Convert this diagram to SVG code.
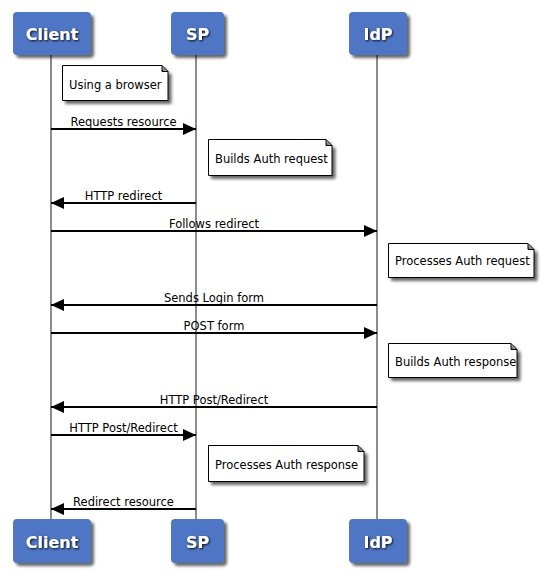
<svg xmlns="http://www.w3.org/2000/svg" width="551" height="571" viewBox="0 0 551 571">
<style>
.box{fill:#4F76C4;stroke:none}
.ptxt{font-family:"DejaVu Sans",Verdana,sans-serif;font-weight:bold;font-size:16px;fill:#fff;text-anchor:middle}
.life{stroke:#8c8c8c;stroke-width:2;fill:none}
.note{fill:#fff;stroke:#000;stroke-width:1}
.ntxt{font-family:"DejaVu Sans",Tahoma,sans-serif;font-size:11.5px;fill:#000}
.msg{stroke:#000;stroke-width:2;fill:none}
.mtxt{font-family:"DejaVu Sans",Tahoma,sans-serif;font-size:11.5px;fill:#000;text-anchor:middle}
</style>
<defs>
<filter id="sh" x="-20%" y="-20%" width="150%" height="160%">
<feGaussianBlur in="SourceAlpha" stdDeviation="1.8"/>
<feOffset dx="3" dy="3" result="b"/>
<feComponentTransfer><feFuncA type="linear" slope="0.6"/></feComponentTransfer>
<feMerge><feMergeNode/><feMergeNode in="SourceGraphic"/></feMerge>
</filter>
<filter id="ts" x="-20%" y="-20%" width="150%" height="160%">
<feGaussianBlur in="SourceAlpha" stdDeviation="1"/>
<feOffset dx="1" dy="1"/>
<feComponentTransfer><feFuncA type="linear" slope="0.9"/></feComponentTransfer>
<feMerge><feMergeNode/><feMergeNode in="SourceGraphic"/></feMerge>
</filter>
<marker id="ah" markerWidth="14" markerHeight="12" refX="13" refY="6" orient="auto" markerUnits="userSpaceOnUse">
<path d="M0,0 L13,6 L0,12 Z" fill="#000"/>
</marker>
</defs>
<rect width="551" height="571" fill="#fff"/>
<g id="lifelines">
<line class="life" x1="51" y1="55" x2="51" y2="519"/>
<line class="life" x1="196" y1="55" x2="196" y2="519"/>
<line class="life" x1="377" y1="55" x2="377" y2="519"/>
</g>
<g id="client-top"><rect class="box" x="13" y="12" width="78" height="43" rx="4" filter="url(#sh)"/><text class="ptxt" x="52" y="40" filter="url(#ts)">Client</text></g>
<g id="sp-top"><rect class="box" x="171" y="12" width="53" height="43" rx="4" filter="url(#sh)"/><text class="ptxt" x="197.5" y="40" filter="url(#ts)">SP</text></g>
<g id="idp-top"><rect class="box" x="349" y="12" width="58" height="43" rx="4" filter="url(#sh)"/><text class="ptxt" x="378" y="40" filter="url(#ts)">IdP</text></g>
<g id="client-bottom"><rect class="box" x="13" y="519" width="78" height="44" rx="4" filter="url(#sh)"/><text class="ptxt" x="52" y="548" filter="url(#ts)">Client</text></g>
<g id="sp-bottom"><rect class="box" x="171" y="519" width="53" height="44" rx="4" filter="url(#sh)"/><text class="ptxt" x="197.5" y="548" filter="url(#ts)">SP</text></g>
<g id="idp-bottom"><rect class="box" x="349" y="519" width="58" height="44" rx="4" filter="url(#sh)"/><text class="ptxt" x="378" y="548" filter="url(#ts)">IdP</text></g>
<g id="note1"><path class="note" d="M62.5,65.5 H162 L168,71.5 V100.5 H62.5 Z M162,65.5 V71.5 H168" filter="url(#sh)"/><text class="ntxt" x="69" y="89">Using a browser</text></g>
<g id="note2"><path class="note" d="M208.5,139.5 H326 L332,145.5 V175.5 H208.5 Z M326,139.5 V145.5 H332" filter="url(#sh)"/><text class="ntxt" x="215" y="163">Builds Auth request</text></g>
<g id="note3"><path class="note" d="M388.5,243.5 H528 L534,249.5 V277.5 H388.5 Z M528,243.5 V249.5 H534" filter="url(#sh)"/><text class="ntxt" x="395" y="265">Processes Auth request</text></g>
<g id="note4"><path class="note" d="M388.5,343.5 H511 L517,349.5 V377.5 H388.5 Z M511,343.5 V349.5 H517" filter="url(#sh)"/><text class="ntxt" x="395" y="366">Builds Auth response</text></g>
<g id="note5"><path class="note" d="M208.5,445.5 H358 L364,451.5 V481.5 H208.5 Z M358,445.5 V451.5 H364" filter="url(#sh)"/><text class="ntxt" x="215" y="469">Processes Auth response</text></g>
<g id="connectors">
<line class="msg" x1="51" y1="129" x2="196" y2="129" marker-end="url(#ah)"/>
<text class="mtxt" x="123.5" y="126">Requests resource</text>
<line class="msg" x1="196" y1="203" x2="51" y2="203" marker-end="url(#ah)"/>
<text class="mtxt" x="123.5" y="200">HTTP redirect</text>
<line class="msg" x1="51" y1="231" x2="377" y2="231" marker-end="url(#ah)"/>
<text class="mtxt" x="214" y="228">Follows redirect</text>
<line class="msg" x1="377" y1="305" x2="51" y2="305" marker-end="url(#ah)"/>
<text class="mtxt" x="214" y="302">Sends Login form</text>
<line class="msg" x1="51" y1="333" x2="377" y2="333" marker-end="url(#ah)"/>
<text class="mtxt" x="214" y="330">POST form</text>
<line class="msg" x1="377" y1="407" x2="51" y2="407" marker-end="url(#ah)"/>
<text class="mtxt" x="214" y="404">HTTP Post/Redirect</text>
<line class="msg" x1="51" y1="435" x2="196" y2="435" marker-end="url(#ah)"/>
<text class="mtxt" x="123.5" y="432">HTTP Post/Redirect</text>
<line class="msg" x1="196" y1="509" x2="51" y2="509" marker-end="url(#ah)"/>
<text class="mtxt" x="123.5" y="506">Redirect resource</text>
</g>
</svg>
